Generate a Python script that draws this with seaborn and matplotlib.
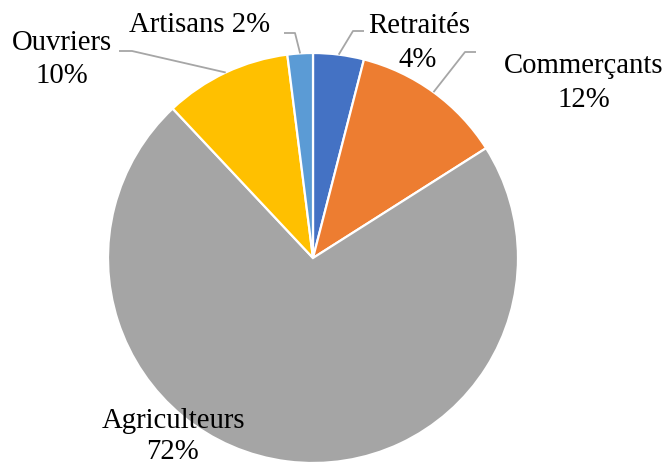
import numpy as np
import matplotlib
matplotlib.use("Agg")
import matplotlib.pyplot as plt
import seaborn as sns

# Répartition par catégorie socioprofessionnelle (%)
categories = ["Retraités", "Commerçants", "Agriculteurs", "Ouvriers", "Artisans"]
values = [4, 12, 72, 10, 2]
colors = ["#4472C4", "#ED7D31", "#A5A5A5", "#FFC000", "#5B9BD5"]

sns.set_theme(style="white")
plt.rcParams["font.family"] = ["Liberation Serif", "DejaVu Serif"]

W, H = 667, 466
fig = plt.figure(figsize=(W / 100, H / 100), dpi=100)
ax = fig.add_axes([0, 0, 1, 1])


def py(y):
    # convert a top-down pixel row into axis units
    return H - y


cx, cy, radius = 313, py(258), 205
wedges, _ = ax.pie(values, colors=sns.color_palette(colors), startangle=90,
                   counterclock=False, center=(cx, cy), radius=radius,
                   wedgeprops=dict(edgecolor="white", linewidth=1.6))
ax.set_xlim(0, W)
ax.set_ylim(0, H)
ax.set_aspect("equal")
ax.axis("off")

# label lines (centre x, baseline row), leader elbow and end (pixels)
layout = {
    "Retraités": dict(lines=[("Retraités", 419, 33), ("{v}%", 418, 67)],
                      elbow=(353, 31), end=(364, 31)),
    "Commerçants": dict(lines=[("Commerçants", 584, 73), ("{v}%", 584, 107)],
                        elbow=(465, 52), end=(476, 52)),
    "Agriculteurs": dict(lines=[("Agriculteurs", 173.5, 428), ("{v}%", 172, 459)],
                         elbow=None, end=None),
    "Ouvriers": dict(lines=[("Ouvriers", 62, 50), ("{v}%", 62, 83)],
                     elbow=(132, 51), end=(119, 51)),
    "Artisans": dict(lines=[("Artisans {v}%", 200, 32)],
                     elbow=(295, 33), end=(284, 33)),
}

for w, name, v in zip(wedges, categories, values):
    cfg = layout[name]
    mid = np.deg2rad((w.theta1 + w.theta2) / 2)
    sx, sy = cx + radius * np.cos(mid), cy + radius * np.sin(mid)
    if cfg["elbow"] is not None:
        ex, ey = cfg["elbow"]
        tx, ty = cfg["end"]
        ax.plot([sx, ex, tx], [sy, py(ey), py(ty)], color="#A6A6A6",
                linewidth=1.3, solid_capstyle="butt", zorder=3)
    for txt, x, base in cfg["lines"]:
        ax.text(x, py(base), txt.format(v=v), ha="center", va="baseline",
                fontsize=20.7, color="black")

fig.savefig("out.png", dpi=100)
